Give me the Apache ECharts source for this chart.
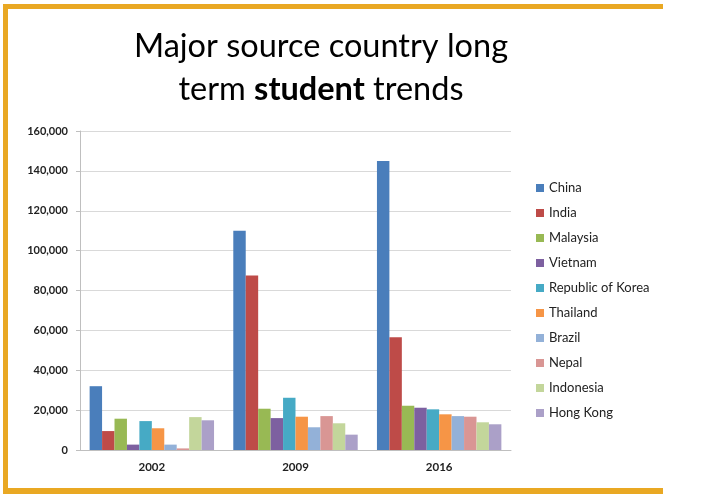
<!DOCTYPE html>
<html>
<head>
<meta charset="utf-8">
<script src="https://cdn.jsdelivr.net/npm/echarts@6/dist/echarts.min.js"></script>
<style>
html,body{margin:0;padding:0;background:#fff;}
#chart{width:710px;height:503px;}
</style>
</head>
<body>
<div id="chart"></div>
<script>
var titleLine1 = 'Major source country long';
var titleLine2 = ['term ', 'student', ' trends'];
var years = ['2002', '2009', '2016'];
var countries = ['China', 'India', 'Malaysia', 'Vietnam', 'Republic of Korea', 'Thailand', 'Brazil', 'Nepal', 'Indonesia', 'Hong Kong'];
var china = [32000, 110000, 145000];
var india = [9500, 87500, 56500];
var malaysia = [15700, 20700, 22200];
var vietnam = [2700, 16000, 21200];
var korea = [14500, 26200, 20400];
var thailand = [10900, 16700, 17900];
var brazil = [2700, 11400, 17000];
var nepal = [800, 17000, 16700];
var indonesia = [16500, 13400, 13900];
var hongKong = [14900, 7700, 12900];
var colors = ['#4A7EBB', '#BE4B48', '#98B954', '#7D60A0', '#46AAC5', '#F69546', '#93B1D8', '#D99694', '#C3D69B', '#ABA0C8'];

var seriesValues = [china, india, malaysia, vietnam, korea, thailand, brazil, nepal, indonesia, hongKong];
var FONT = 'Lato, "Open Sans", sans-serif';
var FRAME = '#E9A823';

var chart = echarts.init(document.getElementById('chart'), null, {renderer: 'canvas'});
var series = countries.map(function (name, i) {
  return {
    name: name,
    type: 'bar',
    data: seriesValues[i],
    barGap: '0%',
    barCategoryGap: '13.4%',
    itemStyle: {color: colors[i]}
  };
});

chart.setOption({
  animation: false,
  backgroundColor: '#fff',
  color: colors,
  textStyle: {fontFamily: FONT},
  grid: {left: 80, right: 199, top: 131, bottom: 53, containLabel: false},
  legend: {
    orient: 'vertical',
    left: 531,
    top: 176,
    itemWidth: 8,
    itemHeight: 8,
    itemGap: 11,
    icon: 'rect',
    data: countries,
    textStyle: {fontFamily: FONT, fontSize: 13, color: '#222', lineHeight: 14}
  },
  xAxis: {
    type: 'category',
    data: years,
    axisLine: {show: true, lineStyle: {color: '#bfbfbf', width: 1}},
    axisTick: {show: false},
    axisLabel: {fontFamily: FONT, fontWeight: 'bold', fontSize: 11.5, color: '#222', margin: 11}
  },
  yAxis: {
    type: 'value',
    min: 0,
    max: 160000,
    interval: 20000,
    axisLine: {show: true, lineStyle: {color: '#bfbfbf', width: 1}},
    axisTick: {show: true, length: 4, lineStyle: {color: '#bfbfbf'}},
    splitLine: {show: true, lineStyle: {color: '#d9d9d9', width: 1}},
    axisLabel: {
      fontFamily: FONT, fontWeight: 'bold', fontSize: 11, color: '#222', margin: 12,
      formatter: function (v) { return v.toLocaleString('en-US'); }
    }
  },
  graphic: [
    {type: 'rect', shape: {x: 3, y: 4, width: 660, height: 5}, style: {fill: FRAME}, silent: true},
    {type: 'rect', shape: {x: 3, y: 4, width: 5, height: 490}, style: {fill: FRAME}, silent: true},
    {type: 'rect', shape: {x: 3, y: 488, width: 660, height: 6}, style: {fill: FRAME}, silent: true},
    {
      type: 'text', x: 321, y: 47,
      style: {text: titleLine1, fill: '#000', fontFamily: FONT, fontSize: 32.5, align: 'center', verticalAlign: 'middle'}
    },
    {
      type: 'text', x: 321, y: 90,
      style: {
        text: '{a|' + titleLine2[0] + '}{b|' + titleLine2[1] + '}{a|' + titleLine2[2] + '}',
        align: 'center', verticalAlign: 'middle',
        rich: {
          a: {fontFamily: FONT, fontSize: 32.5, color: '#000'},
          b: {fontFamily: FONT, fontSize: 32.5, fontWeight: 'bold', color: '#000'}
        }
      }
    }
  ],
  series: series
});
</script>
</body>
</html>
